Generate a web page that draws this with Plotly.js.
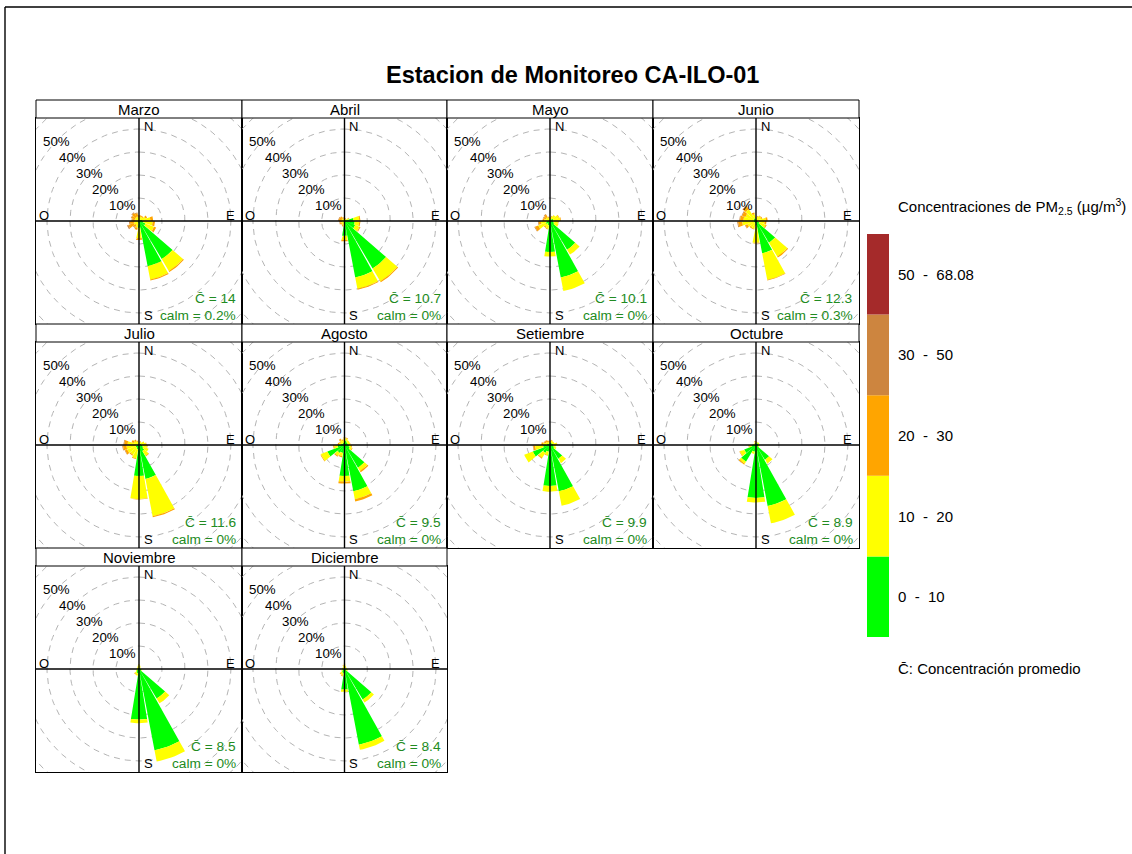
<!DOCTYPE html>
<html>
<head>
<meta charset="utf-8">
<script src="https://cdn.plot.ly/plotly-3.0.1.min.js"></script>
<style>
  html, body { margin: 0; padding: 0; background: #ffffff; }
  #chart { width: 1132px; height: 854px; }
</style>
</head>
<body>
<div id="chart"></div>
<script>
// ---- data -----------------------------------------------------------------
const months = ["Marzo", "Abril", "Mayo", "Junio", "Julio", "Agosto",
                "Setiembre", "Octubre", "Noviembre", "Diciembre"];
const meanConc = [14, 10.7, 10.1, 12.3, 11.6, 9.5, 9.9, 8.9, 8.5, 8.4];
const calmPct = [0.2, 0, 0, 0.3, 0, 0, 0, 0, 0, 0];

// wind sectors (degrees, clockwise from north), 20 degree bins
const directions = [0, 20, 40, 60, 80, 100, 120, 140, 160, 180, 200, 220, 240, 260, 280, 300, 320, 340];

// concentration classes (ug/m3)
const binLabels = ["0  -  10", "10  -  20", "20  -  30", "30  -  50", "50  -  68.08"];
const binColors = ["#00FF00", "#FFFF00", "#FFA500", "#CD853F", "#A52A2A"];

// percentage of time per month (rows) and sector (columns) in each class
const pct0_10 = [
  [0.5, 0.5, 0.5, 1.0, 1.5, 2.0, 3.0, 19.3, 20.0, 3.0, 1.0, 0.5, 0.5, 0.5, 0.5, 0.5, 0.5, 0.5],
  [0.5, 0.5, 0.5, 1.0, 4.0, 4.5, 5.0, 24.0, 25.0, 6.5, 1.0, 0.5, 0.5, 0.3, 0.3, 0.3, 0.3, 0.3],
  [0.5, 0.5, 1.0, 1.5, 1.5, 1.5, 2.0, 14.5, 25.0, 13.5, 2.0, 1.5, 2.0, 1.5, 1.0, 0.5, 0.5, 0.5],
  [0.5, 0.5, 0.5, 0.5, 0.8, 0.8, 1.5, 11.0, 14.3, 2.0, 1.0, 0.8, 1.0, 1.0, 1.0, 1.0, 1.5, 1.0],
  [0.5, 0.5, 0.5, 1.0, 1.0, 1.5, 2.0, 3.0, 15.0, 13.5, 2.0, 1.5, 1.5, 1.0, 1.0, 0.5, 0.5, 0.5],
  [2.0, 2.0, 1.5, 1.5, 1.5, 2.0, 2.5, 11.5, 20.5, 13.5, 3.5, 4.0, 8.0, 3.0, 1.5, 1.0, 1.0, 1.0],
  [1.0, 1.0, 1.0, 1.0, 1.5, 1.5, 2.0, 7.0, 20.5, 17.8, 3.0, 4.0, 8.0, 3.0, 1.5, 1.0, 0.5, 0.5],
  [1.0, 0.5, 1.0, 1.0, 1.0, 1.0, 1.0, 7.5, 27.0, 23.0, 3.0, 8.5, 5.5, 2.0, 1.0, 0.5, 0.5, 1.0],
  [0.5, 0.5, 0.5, 0.5, 0.5, 1.0, 1.0, 15.0, 36.0, 22.0, 2.0, 1.5, 1.0, 0.5, 0.5, 0.5, 0.5, 0.5],
  [0.5, 0.5, 0.5, 0.5, 0.5, 1.0, 1.0, 15.5, 33.5, 9.0, 2.0, 1.5, 1.0, 0.5, 0.5, 0.5, 0.5, 0.5]
];
const pct10_20 = [
  [1.0, 1.5, 1.5, 2.0, 3.5, 4.0, 4.0, 6.0, 5.9, 4.5, 2.0, 1.5, 2.0, 1.5, 1.0, 1.5, 1.5, 1.5],
  [0.5, 0.5, 0.5, 1.0, 2.5, 2.0, 2.0, 6.5, 5.0, 1.8, 1.0, 1.0, 1.0, 0.8, 1.0, 1.0, 1.0, 0.8],
  [1.0, 1.5, 2.0, 2.5, 3.0, 2.0, 2.0, 2.5, 6.0, 2.0, 1.5, 1.5, 3.5, 2.5, 1.5, 1.5, 1.5, 1.0],
  [1.0, 1.5, 2.0, 2.0, 3.5, 3.0, 3.0, 7.0, 11.7, 7.5, 2.5, 2.5, 3.0, 5.0, 4.5, 4.0, 4.5, 2.0],
  [0.5, 1.0, 1.0, 1.5, 2.0, 2.0, 2.5, 2.5, 16.5, 10.0, 4.0, 3.5, 4.0, 4.5, 4.0, 2.0, 1.5, 1.0],
  [1.0, 1.0, 1.0, 1.0, 1.0, 1.0, 1.0, 1.7, 3.5, 2.5, 1.5, 1.5, 3.0, 1.5, 1.0, 1.0, 1.5, 1.0],
  [0.5, 1.0, 1.0, 1.0, 1.5, 1.0, 1.0, 2.2, 6.4, 2.5, 1.5, 2.5, 4.0, 3.5, 1.5, 1.0, 1.0, 1.0],
  [0.5, 0.5, 0.5, 0.5, 0.5, 0.5, 0.5, 2.0, 7.7, 2.0, 1.0, 1.0, 2.0, 1.0, 0.5, 0.5, 0.5, 0.5],
  [1.5, 1.0, 0.5, 0.3, 0.3, 0.3, 0.3, 2.4, 5.0, 1.6, 1.0, 1.0, 0.5, 0.5, 0.5, 0.5, 0.5, 1.0],
  [1.5, 1.0, 0.5, 0.5, 0.5, 0.5, 0.5, 1.5, 2.3, 1.0, 1.0, 1.0, 0.5, 0.5, 0.5, 0.5, 0.5, 1.0]
];
const pct20_30 = [
  [1.0, 0.5, 0.5, 0.8, 1.2, 1.0, 1.0, 0.5, 0.5, 0.8, 1.0, 1.2, 2.5, 2.0, 1.5, 1.5, 2.0, 1.5],
  [0.3, 0.3, 0.0, 0.3, 0.5, 0.5, 0.5, 0.5, 0.4, 0.6, 0.5, 0.5, 0.8, 1.0, 1.2, 1.2, 1.0, 0.6],
  [0.3, 0.3, 0.0, 0.3, 0.3, 0.3, 0.0, 0.0, 0.0, 0.0, 0.3, 0.5, 1.5, 1.0, 0.8, 1.0, 1.3, 0.5],
  [0.2, 0.3, 0.3, 0.5, 0.8, 0.8, 0.5, 0.5, 0.3, 0.3, 0.3, 0.5, 1.0, 1.8, 1.5, 1.5, 1.5, 0.8],
  [0.2, 0.3, 0.0, 0.0, 0.3, 0.3, 0.0, 0.3, 0.5, 0.2, 0.3, 0.5, 1.0, 1.5, 1.5, 1.0, 0.8, 0.5],
  [0.3, 0.3, 0.0, 0.0, 0.2, 0.3, 0.3, 0.6, 1.0, 0.8, 0.5, 0.5, 0.3, 0.5, 0.5, 0.5, 0.8, 0.5],
  [0.3, 0.3, 0.0, 0.0, 0.2, 0.0, 0.0, 0.0, 0.0, 0.0, 0.3, 0.5, 0.0, 0.8, 0.8, 0.8, 1.0, 0.5],
  [0.3, 0.3, 0.0, 0.0, 0.0, 0.0, 0.0, 0.0, 0.0, 0.0, 0.0, 0.5, 0.3, 0.3, 0.0, 0.0, 0.2, 0.3],
  [0.2, 0.0, 0.0, 0.0, 0.0, 0.0, 0.0, 0.0, 0.0, 0.0, 0.0, 0.3, 0.0, 0.0, 0.0, 0.0, 0.0, 0.0],
  [0.3, 0.0, 0.0, 0.0, 0.0, 0.0, 0.0, 0.0, 0.0, 0.0, 0.3, 0.3, 0.0, 0.0, 0.0, 0.0, 0.0, 0.3]
];
const pct30_50 = [
  [0.0, 0.0, 0.0, 0.0, 0.0, 0.0, 0.0, 0.0, 0.0, 0.0, 0.0, 0.3, 0.6, 0.4, 0.3, 0.3, 0.4, 0.3],
  [0.0, 0.0, 0.0, 0.0, 0.0, 0.0, 0.0, 0.0, 0.0, 0.0, 0.0, 0.0, 0.2, 0.3, 0.3, 0.3, 0.2, 0.0],
  [0.0, 0.0, 0.0, 0.0, 0.0, 0.0, 0.0, 0.0, 0.0, 0.0, 0.0, 0.0, 0.3, 0.3, 0.0, 0.3, 0.3, 0.0],
  [0.0, 0.0, 0.0, 0.0, 0.0, 0.0, 0.0, 0.0, 0.0, 0.0, 0.0, 0.0, 0.2, 0.4, 0.3, 0.3, 0.3, 0.0],
  [0.0, 0.0, 0.0, 0.0, 0.0, 0.0, 0.0, 0.0, 0.0, 0.0, 0.0, 0.0, 0.2, 0.3, 0.3, 0.0, 0.0, 0.0],
  [0.0, 0.0, 0.0, 0.0, 0.0, 0.0, 0.0, 0.0, 0.0, 0.0, 0.0, 0.0, 0.0, 0.0, 0.0, 0.0, 0.0, 0.0],
  [0.0, 0.0, 0.0, 0.0, 0.0, 0.0, 0.0, 0.0, 0.0, 0.0, 0.0, 0.0, 0.0, 0.2, 0.0, 0.2, 0.2, 0.0],
  [0.0, 0.0, 0.0, 0.0, 0.0, 0.0, 0.0, 0.0, 0.0, 0.0, 0.0, 0.0, 0.0, 0.0, 0.0, 0.0, 0.0, 0.0],
  [0.0, 0.0, 0.0, 0.0, 0.0, 0.0, 0.0, 0.0, 0.0, 0.0, 0.0, 0.0, 0.0, 0.0, 0.0, 0.0, 0.0, 0.0],
  [0.0, 0.0, 0.0, 0.0, 0.0, 0.0, 0.0, 0.0, 0.0, 0.0, 0.0, 0.0, 0.0, 0.0, 0.0, 0.0, 0.0, 0.0]
];
const pct50_68 = [
  [0.0, 0.0, 0.0, 0.0, 0.0, 0.0, 0.0, 0.0, 0.0, 0.0, 0.0, 0.0, 0.0, 0.0, 0.0, 0.0, 0.0, 0.0],
  [0.0, 0.0, 0.0, 0.0, 0.0, 0.0, 0.0, 0.0, 0.0, 0.0, 0.0, 0.0, 0.0, 0.0, 0.0, 0.0, 0.0, 0.0],
  [0.0, 0.0, 0.0, 0.0, 0.0, 0.0, 0.0, 0.0, 0.0, 0.0, 0.0, 0.0, 0.0, 0.0, 0.0, 0.0, 0.0, 0.0],
  [0.0, 0.0, 0.0, 0.0, 0.0, 0.0, 0.0, 0.0, 0.0, 0.0, 0.0, 0.0, 0.0, 0.0, 0.0, 0.0, 0.0, 0.0],
  [0.0, 0.0, 0.0, 0.0, 0.0, 0.0, 0.0, 0.0, 0.0, 0.0, 0.0, 0.0, 0.0, 0.0, 0.0, 0.0, 0.0, 0.0],
  [0.0, 0.0, 0.0, 0.0, 0.0, 0.0, 0.0, 0.0, 0.0, 0.0, 0.0, 0.0, 0.0, 0.0, 0.0, 0.0, 0.0, 0.0],
  [0.0, 0.0, 0.0, 0.0, 0.0, 0.0, 0.0, 0.0, 0.0, 0.0, 0.0, 0.0, 0.0, 0.0, 0.0, 0.0, 0.0, 0.0],
  [0.0, 0.0, 0.0, 0.0, 0.0, 0.0, 0.0, 0.0, 0.0, 0.0, 0.0, 0.0, 0.0, 0.0, 0.0, 0.0, 0.0, 0.0],
  [0.0, 0.0, 0.0, 0.0, 0.0, 0.0, 0.0, 0.0, 0.0, 0.0, 0.0, 0.0, 0.0, 0.0, 0.0, 0.0, 0.0, 0.0],
  [0.0, 0.0, 0.0, 0.0, 0.0, 0.0, 0.0, 0.0, 0.0, 0.0, 0.0, 0.0, 0.0, 0.0, 0.0, 0.0, 0.0, 0.0]
];
const binData = [pct0_10, pct10_20, pct20_30, pct30_50, pct50_68];

const ringValues = [10, 20, 30, 40, 50, 60];
const ringLabels = ["10%", "20%", "30%", "40%", "50%"];

// ---- page geometry (pixels) -----------------------------------------------
const W = 1132, H = 854;
const colEdges = [36, 242, 447, 653, 859];
const rowTop = [118, 342, 566];      // top of each row's plot area
const rowBottom = [324, 548, 772];
const stripH = 18;
const R = 44.8;                       // visible radius of each rose, in %
const halfWidth = 9.2;                // half angular width of a wedge (deg)

const FONT = "Liberation Sans, Arial, Helvetica, sans-serif";
const px = v => v / W;
const py = v => 1 - v / H;
const rad = d => d * Math.PI / 180;

const traces = [];
const layout = {
  width: W, height: H,
  margin: { l: 0, r: 0, t: 0, b: 0 },
  paper_bgcolor: "#ffffff",
  plot_bgcolor: "#ffffff",
  showlegend: false,
  font: { family: FONT, color: "#000000" },
  shapes: [],
  annotations: []
};

// annular sector between radii r0 and r1 for a direction d
function sector(d, r0, r1, xs, ys) {
  const a0 = d - halfWidth, a1 = d + halfWidth, n = 8;
  for (let k = 0; k <= n; k++) {
    const a = rad(a0 + (a1 - a0) * k / n);
    xs.push(r1 * Math.sin(a)); ys.push(r1 * Math.cos(a));
  }
  if (r0 <= 0) {
    xs.push(0); ys.push(0);
  } else {
    for (let k = n; k >= 0; k--) {
      const a = rad(a0 + (a1 - a0) * k / n);
      xs.push(r0 * Math.sin(a)); ys.push(r0 * Math.cos(a));
    }
  }
  xs.push(null); ys.push(null);
}

months.forEach((name, m) => {
  const row = Math.floor(m / 4), col = m % 4;
  const n = m + 1;
  const xa = n === 1 ? "x" : "x" + n;
  const ya = n === 1 ? "y" : "y" + n;
  const x0 = colEdges[col], x1 = colEdges[col + 1];
  const yTop = rowTop[row], yBot = rowBottom[row];

  const axisBase = {
    range: [-R, R], showgrid: false, zeroline: false, showticklabels: false,
    ticks: "", showline: true, mirror: true, linecolor: "#000000", linewidth: 1,
    fixedrange: true
  };
  layout["xaxis" + (n === 1 ? "" : n)] = Object.assign({}, axisBase, {
    domain: [px(x0), px(x1)], anchor: ya
  });
  layout["yaxis" + (n === 1 ? "" : n)] = Object.assign({}, axisBase, {
    domain: [py(yBot), py(yTop)], anchor: xa
  });

  // dashed reference circles
  const cx = [], cy = [];
  ringValues.forEach(r => {
    for (let a = 0; a <= 360; a += 2) {
      cx.push(r * Math.sin(rad(a))); cy.push(r * Math.cos(rad(a)));
    }
    cx.push(null); cy.push(null);
  });
  traces.push({
    type: "scatter", mode: "lines", x: cx, y: cy, xaxis: xa, yaxis: ya,
    line: { color: "#b4b4b4", width: 1, dash: "6px,5px" }, hoverinfo: "skip"
  });

  // stacked wedges, one trace per concentration class
  const cum = directions.map(() => 0);
  binData.forEach((tbl, b) => {
    const xs = [], ys = [];
    directions.forEach((d, i) => {
      const v = tbl[m][i];
      if (v > 0) {
        sector(d, cum[i], cum[i] + v, xs, ys);
        cum[i] += v;
      }
    });
    if (xs.length) {
      traces.push({
        type: "scatter", mode: "lines", x: xs, y: ys, xaxis: xa, yaxis: ya,
        fill: "toself", fillcolor: binColors[b], line: { width: 0, color: binColors[b] },
        hoverinfo: "skip"
      });
    }
  });

  // N-S and O-E axes
  traces.push({
    type: "scatter", mode: "lines",
    x: [-R, R, null, 0, 0], y: [0, 0, null, -R, R], xaxis: xa, yaxis: ya,
    line: { color: "#000000", width: 1.4 }, hoverinfo: "skip"
  });

  // strip with month name
  layout.shapes.push({
    type: "rect", xref: "paper", yref: "paper",
    x0: px(x0), x1: px(x1), y0: py(yTop), y1: py(yTop - stripH),
    line: { color: "#000000", width: 1 }, fillcolor: "#ffffff"
  });
  layout.annotations.push({
    xref: "paper", yref: "paper", x: px((x0 + x1) / 2), y: py(yTop - stripH / 2),
    text: name, showarrow: false, xanchor: "center", yanchor: "middle",
    font: { size: 15, family: FONT, color: "#000000" }
  });

  // cardinal points
  const card = [
    { t: "N", x: 1.2, y: 40.9, xa: "left" },
    { t: "S", x: 1.2, y: -41.3, xa: "left" },
    { t: "E", x: 42.8, y: 2.3, xa: "right" },
    { t: "O", x: -44.2, y: 2.3, xa: "left" }
  ];
  card.forEach(c => layout.annotations.push({
    xref: xa, yref: ya, x: c.x, y: c.y, text: c.t, showarrow: false,
    xanchor: c.xa, yanchor: "middle", font: { size: 13, family: FONT, color: "#000000" }
  }));

  // ring labels along the north-west diagonal
  ringLabels.forEach((lab, k) => {
    const r = ringValues[k];
    layout.annotations.push({
      xref: xa, yref: ya, x: -r * 0.72, y: r * 0.69, text: lab, showarrow: false,
      xanchor: "center", yanchor: "middle",
      font: { size: 13.3, family: FONT, color: "#000000" }
    });
  });

  // mean concentration and calm percentage
  layout.annotations.push({
    xref: xa, yref: ya, x: 42.9, y: -33.5, text: "C\u0304 = " + meanConc[m],
    showarrow: false, xanchor: "right", yanchor: "middle",
    font: { size: 13.7, family: FONT, color: "#228B22" }
  });
  layout.annotations.push({
    xref: xa, yref: ya, x: 42.9, y: -41.3, text: "calm = " + calmPct[m] + "%",
    showarrow: false, xanchor: "right", yanchor: "middle",
    font: { size: 13.7, family: FONT, color: "#228B22" }
  });
});

// main title
layout.annotations.push({
  xref: "paper", yref: "paper", x: px(572), y: py(75),
  text: "<b>Estacion de Monitoreo CA-ILO-01</b>", showarrow: false,
  xanchor: "center", yanchor: "middle",
  font: { size: 23.5, family: FONT, color: "#000000" }
});

// colour key
const keyTop = 234, keyBottom = 637, keyX0 = 867, keyX1 = 889;
const bandH = (keyBottom - keyTop) / binColors.length;
binColors.forEach((c, b) => {
  const yb = keyBottom - b * bandH, yt = yb - bandH;
  layout.shapes.push({
    type: "rect", xref: "paper", yref: "paper",
    x0: px(keyX0), x1: px(keyX1), y0: py(yb), y1: py(yt),
    line: { width: 0 }, fillcolor: c
  });
  layout.annotations.push({
    xref: "paper", yref: "paper", x: px(896), y: py((yb + yt) / 2),
    text: binLabels[b].replace(/ /g, "\u00A0"), showarrow: false,
    xanchor: "left", yanchor: "middle",
    font: { size: 15, family: FONT, color: "#000000" }
  });
});
layout.annotations.push({
  xref: "paper", yref: "paper", x: px(896), y: py(207),
  text: "Concentraciones de PM<sub>2.5</sub> (\u00B5g/m<sup>3</sup>)", showarrow: false,
  xanchor: "left", yanchor: "middle",
  font: { size: 15, family: FONT, color: "#000000" }
});
layout.annotations.push({
  xref: "paper", yref: "paper", x: px(896), y: py(668),
  text: "C\u0304: Concentración promedio", showarrow: false,
  xanchor: "left", yanchor: "middle",
  font: { size: 15, family: FONT, color: "#000000" }
});

// page frame
layout.shapes.push({
  type: "line", xref: "paper", yref: "paper",
  x0: px(5), x1: 1, y0: py(7), y1: py(7), line: { color: "#000000", width: 1.4 }
});
layout.shapes.push({
  type: "line", xref: "paper", yref: "paper",
  x0: px(5), x1: px(5), y0: py(7), y1: 0, line: { color: "#000000", width: 1.4 }
});

Plotly.newPlot("chart", traces, layout, { displayModeBar: false, staticPlot: true });
</script>
</body>
</html>
